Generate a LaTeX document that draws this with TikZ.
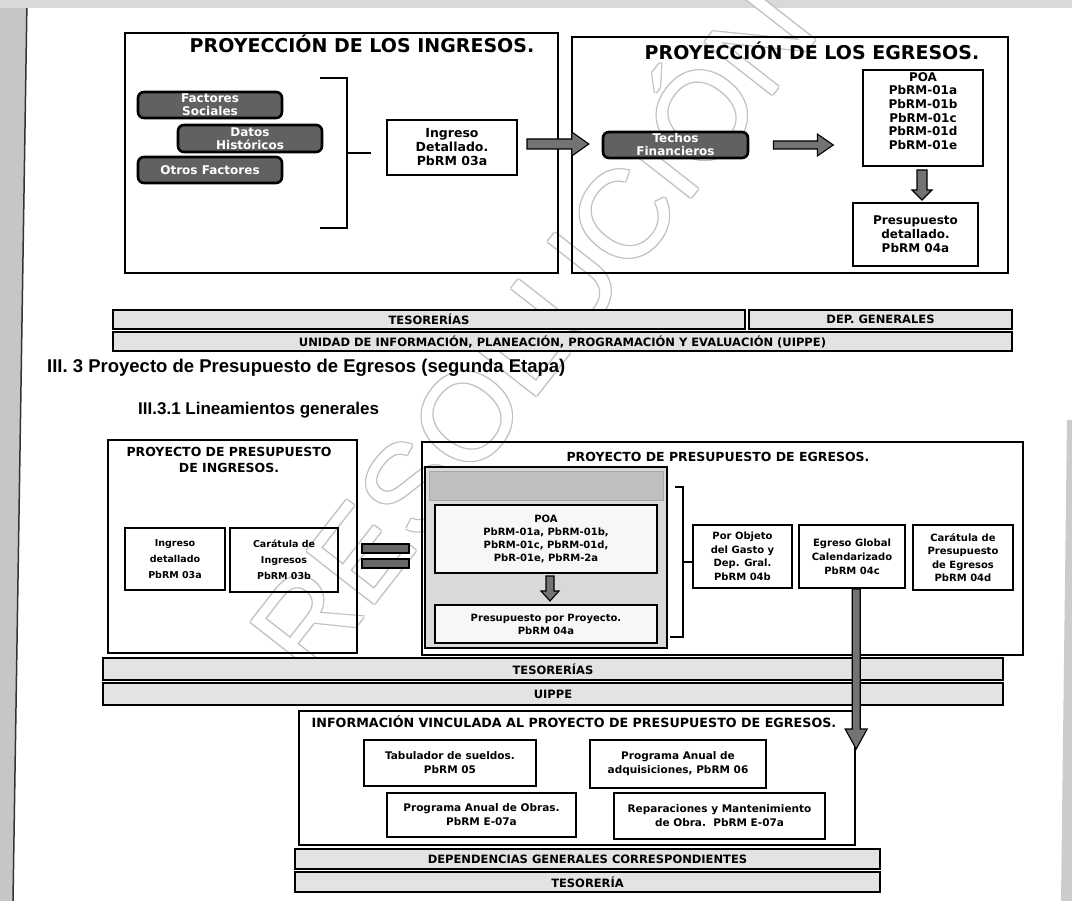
\documentclass[tikz,border=0pt]{standalone}
\usepackage{fontspec}
\setmainfont{DejaVu Sans}
\newfontfamily\hfont{Liberation Sans}
\newfontfamily\wmfont{Liberation Sans}
\usetikzlibrary{calc}
\newcommand\ft[2]{\fontsize{#1}{#2}\selectfont\bfseries}
\newcommand\harrow[5]{%
 \draw[fatarrow] ($(#1)+(0,#3)$) -- ($(#2)+(-#4,#3)$) -- ($(#2)+(-#4,#5)$) -- (#2) -- ($(#2)+(-#4,-#5)$) -- ($(#2)+(-#4,-#3)$) -- ($(#1)+(0,-#3)$) -- cycle;}
\newcommand\varrow[5]{%
 \draw[fatarrow] ($(#1)+(#3,0)$) -- ($(#2)+(#3,-#4)$) -- ($(#2)+(#5,-#4)$) -- (#2) -- ($(#2)+(-#5,-#4)$) -- ($(#2)+(-#3,-#4)$) -- ($(#1)+(-#3,0)$) -- cycle;}
\begin{document}
\begin{tikzpicture}[x=1pt,y=-1pt,
 bigframe/.style={draw=black,line width=2.4pt,inner sep=0pt},
 bx/.style={draw=black,line width=2pt,align=center,inner sep=0pt},
 darkbox/.style={draw=black,line width=2.6pt,rounded corners=6pt,fill=black!62,text=white,align=center,inner sep=0pt,font=\ft{12}{13}},
 bar/.style={draw=black,line width=2pt,fill=gray!22,inner sep=0pt,font=\ft{11.5}{12}},
 fatarrow/.style={draw=black,line width=1.1pt,fill=black!55},
 brk/.style={draw=black,line width=1.6pt},
 lbl/.style={align=center,inner sep=0pt}]
\useasboundingbox (0,0) rectangle (1072,901);
\fill[white] (0,0) rectangle (1072,901);
% scan edges
\fill[gray!45] (0,0) -- (27,0) -- (13,901) -- (0,901) -- cycle;
\draw[black!80,line width=1.5pt] (27,0) -- (13,901);
\fill[gray!30] (0,0) rectangle (1072,8);
\fill[gray!40] (1067,420) -- (1072,420) -- (1072,901) -- (1061,901) -- cycle;
% watermark
\coordinate (wmc) at (525,325);
\foreach \dx/\dy [count=\i] in {1/1,-1/1,1/-1,-1/-1}
  \node[text=gray!50,rotate=52,inner sep=0pt,font=\wmfont\fontsize{125}{125}\selectfont] (wm\i) at ($(wmc)+(\dx,\dy)$) {RESOLUCIÓN};
\node[text=white,rotate=52,inner sep=0pt,font=\wmfont\fontsize{125}{125}\selectfont] (wm) at (wmc) {RESOLUCIÓN};

% ===== top section =====
\node[bigframe,minimum width=433pt,minimum height=240pt] (fin) at (341.5,153) {};
\node[lbl,font=\ft{19}{22}] (tin) at (362,44) {PROYECCIÓN DE LOS INGRESOS.};
\node[darkbox,minimum width=144pt,minimum height=26pt] (fs) at (210,105) {Factores\\Sociales};
\node[darkbox,minimum width=144pt,minimum height=27pt] (dh) at (250,138.5) {Datos\\Históricos};
\node[darkbox,minimum width=144pt,minimum height=26pt] (of) at (210,170) {Otros Factores};
\coordinate (b1t) at (320,78);
\coordinate (b1b) at (320,228);
\coordinate (b1m) at (347,153);
\draw[brk] (b1t) -- (347,78) -- (347,228) -- (b1b);
\node[bx,minimum width=130pt,minimum height=55pt,font=\ft{12.5}{14}] (ingd) at (452,147.5) {Ingreso\\Detallado.\\PbRM 03a};
\draw[brk] (b1m) -- ($(ingd.west)+(-15,5.5)$);

\node[bigframe,minimum width=436pt,minimum height=236pt] (fout) at (790,155) {};
\node[lbl,font=\ft{19}{22}] (tout) at (812,51) {PROYECCIÓN DE LOS EGRESOS.};
\node[darkbox,minimum width=145pt,minimum height=26pt] (tf) at (675.5,145) {Techos\\Financieros};
\node[bx,minimum width=120pt,minimum height=96pt] (poa) at (923,118) {};
\node[lbl,font=\ft{12}{13.6}] (poat) at (923,111) {POA\\PbRM-01a\\PbRM-01b\\PbRM-01c\\PbRM-01d\\PbRM-01e};
\node[bx,minimum width=125pt,minimum height=63pt,font=\ft{12}{14}] (pdet) at (915.5,234.5) {Presupuesto\\detallado.\\PbRM 04a};

\coordinate (a1s) at ($(ingd.east)+(9,-3.5)$);
\coordinate (a1e) at ($(fout.west)+(18,-11)$);
\harrow{a1s}{a1e}{5}{17}{12}
\coordinate (a2s) at ($(tf.east)+(24,0)$);
\coordinate (a2e) at ($(tf.east)+(84,0)$);
\harrow{a2s}{a2e}{4}{16}{11}
\coordinate (a3s) at ($(poa.south)+(-1,3)$);
\coordinate (a3e) at ($(pdet.north)+(6.5,-2)$);
\varrow{a3s}{a3e}{5}{10}{10}

\node[bar,minimum width=632pt,minimum height=19pt] (tes1) at (429,319.5) {TESORERÍAS};
\node[bar,minimum width=263pt,minimum height=19pt] (dep1) at (880.5,319.5) {DEP. GENERALES};
\node[bar,minimum width=899pt,minimum height=19pt] (uip1) at (562.5,341.5) {UNIDAD DE INFORMACIÓN, PLANEACIÓN, PROGRAMACIÓN Y EVALUACIÓN (UIPPE)};

% headings
\node[anchor=west,inner sep=0pt,font=\hfont\bfseries\fontsize{18.5}{20}\selectfont] (h1) at (47,368) {III. 3 Proyecto de Presupuesto de Egresos (segunda Etapa)};
\node[anchor=west,inner sep=0pt,font=\hfont\bfseries\fontsize{17}{19}\selectfont] (h2) at (138,410) {III.3.1 Lineamientos generales};

% ===== second section =====
\node[bigframe,minimum width=249pt,minimum height=213pt] (lbox) at (232.5,546.5) {};
\node[lbl,font=\ft{12.5}{15.5}] (lt) at (229,460) {PROYECTO DE PRESUPUESTO\\DE INGRESOS.};
\node[bx,minimum width=100pt,minimum height=62pt,font=\ft{9.5}{16}] (ing2) at (175,559) {Ingreso\\detallado\\PbRM 03a};
\node[bx,minimum width=108pt,minimum height=64pt,font=\ft{9.5}{16}] (car2) at (284,560) {Carátula de\\Ingresos\\PbRM 03b};
\node[draw=black,line width=1.5pt,fill=black!60,minimum width=47pt,minimum height=9pt,inner sep=0pt] (eq1) at (385.5,548.5) {};
\node[draw=black,line width=1.5pt,fill=black!60,minimum width=47pt,minimum height=9pt,inner sep=0pt] (eq2) at (385.5,563.5) {};

\node[bigframe,minimum width=601pt,minimum height=213pt] (rbox) at (722.5,548.5) {};
\node[lbl,font=\ft{12.5}{15}] (rt) at (718,457) {PROYECTO DE PRESUPUESTO DE EGRESOS.};
\node[draw=black,line width=2.4pt,fill=gray!30,minimum width=242pt,minimum height=181pt,inner sep=0pt] (inf) at (546,557.5) {};
\node[fill=gray!50,draw=gray!70,line width=0.6pt,minimum width=234pt,minimum height=29pt,inner sep=0pt] (hdr) at (546,485.5) {};
\node[bx,fill=gray!6,minimum width=222pt,minimum height=68pt,font=\ft{10}{13}] (poa2) at (546,539) {POA\\PbRM-01a, PbRM-01b,\\PbRM-01c, PbRM-01d,\\PbR-01e, PbRM-2a};
\node[bx,fill=gray!6,minimum width=222pt,minimum height=38pt,font=\ft{10}{13}] (pp2) at (546,624) {Presupuesto por Proyecto.\\PbRM 04a};
\coordinate (a4s) at ($(poa2.south)+(4,2)$);
\coordinate (a4e) at ($(pp2.north)+(4,-3)$);
\varrow{a4s}{a4e}{4}{10}{9}
\coordinate (b2t) at (675,487);
\coordinate (b2b) at (670,637);
\coordinate (b2m) at (683,562);
\draw[brk] (b2t) -- (683,487) -- (683,637) -- (b2b);
\node[bx,minimum width=99pt,minimum height=63pt,font=\ft{10}{13.5}] (pog) at (742.5,556.5) {Por Objeto\\del Gasto y\\Dep. Gral.\\PbRM 04b};
\draw[brk] (b2m) -- (pog.west |- b2m);
\node[bx,minimum width=106pt,minimum height=63pt,font=\ft{10}{14}] (egc) at (852,556.5) {Egreso Global\\Calendarizado\\PbRM 04c};
\node[bx,minimum width=100pt,minimum height=65pt,font=\ft{10}{13.5}] (cpe) at (963,557.5) {Carátula de\\Presupuesto\\de Egresos\\PbRM 04d};

\node[bar,minimum width=900pt,minimum height=22pt] (tes2) at (553,669) {TESORERÍAS};
\node[bar,minimum width=900pt,minimum height=22pt] (uip2) at (553,694) {UIPPE};

% ===== bottom section =====
\node[bigframe,minimum width=556pt,minimum height=134pt] (bb) at (577,778) {};
\node[lbl,font=\ft{12.7}{15}] (bt) at (574,722) {INFORMACIÓN VINCULADA AL PROYECTO DE PRESUPUESTO DE EGRESOS.};
\node[bx,minimum width=172pt,minimum height=46pt,font=\ft{10.5}{14}] (tab) at (450,763) {Tabulador de sueldos.\\PbRM 05};
\node[bx,minimum width=176pt,minimum height=48pt,font=\ft{10.5}{14}] (adq) at (678,764) {Programa Anual de\\adquisiciones, PbRM 06};
\node[bx,minimum width=189pt,minimum height=44pt,font=\ft{10.5}{14}] (obr) at (481.5,815) {Programa Anual de Obras.\\PbRM E-07a};
\node[bx,minimum width=211pt,minimum height=46pt,font=\ft{10.5}{14}] (rep) at (719.5,816) {Reparaciones y Mantenimiento\\de Obra.\ \ PbRM E-07a};
\node[bar,minimum width=585pt,minimum height=20pt] (dep2) at (587.5,859) {DEPENDENCIAS GENERALES CORRESPONDIENTES};
\node[bar,minimum width=585pt,minimum height=20pt] (tes3) at (587.5,882) {TESORERÍA};

% long arrow
\coordinate (a5s) at ($(egc.south)+(3,0)$);
\coordinate (a5e) at (bb.north east |- 0,749);
\coordinate (a5s2) at (a5e |- a5s);
\varrow{a5s2}{a5e}{4}{20}{11}
\end{tikzpicture}
\end{document}
